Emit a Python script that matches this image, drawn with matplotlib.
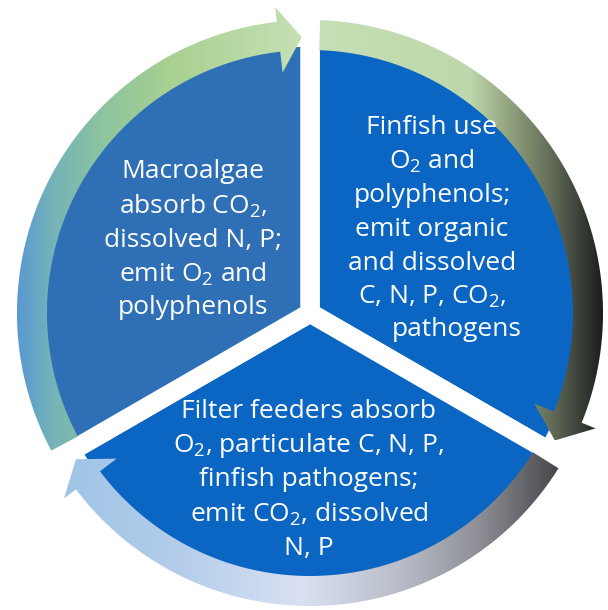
import numpy as np
import matplotlib
matplotlib.use('Agg')
import matplotlib.pyplot as plt
from matplotlib.colors import LinearSegmentedColormap
from matplotlib.patches import Polygon

plt.rcParams['font.family'] = ['Open Sans', 'DejaVu Sans']
plt.rcParams['mathtext.fontset'] = 'custom'
plt.rcParams['mathtext.rm'] = 'Open Sans'
plt.rcParams['mathtext.it'] = 'Open Sans'
plt.rcParams['mathtext.bf'] = 'Open Sans'

# three equal stages of the cycle, clockwise from the top
shares = [1, 1, 1]
stages = ['Finfish', 'Filter feeders', 'Macroalgae']
wedge_colors = ['#0a66c2', '#0a66c2', '#2e6fb6']

finfish_lines = ['Finfish use', r'O$_2$ and', 'polyphenols;', 'emit organic',
                 'and dissolved', r'C, N, P, CO$_2$,']
finfish_tail = 'pathogens'
filter_lines = ['Filter feeders absorb', r'O$_2$, particulate C, N, P,',
                'finfish pathogens;', r'emit CO$_2$, dissolved', 'N, P']
macro_lines = ['Macroalgae', r'absorb CO$_2$,', 'dissolved N, P;',
               r'emit O$_2$ and', 'polyphenols']

# arrow angles (tail, head base, tip) in degrees, going clockwise
arrow_angles = [(208, 96.5, 91.7), (88, -22, -27.5), (-32, -143, -148)]
# horizontal colour stops (pixel x, colour) for each arrow
arrow_stops = [
    [(15, '#5898d4'), (50, '#73b2b9'), (100, '#8cc3a0'), (170, '#a8d090'), (300, '#c5e0b4')],
    [(320, '#c5e0b4'), (470, '#bed7ac'), (515, '#8c9b78'), (555, '#5f6856'), (605, '#1a1a1a')],
    [(50, '#9dc3e6'), (180, '#b4cdeb'), (300, '#d9e1f2'), (400, '#b9bdc9'), (480, '#8e8f96'), (575, '#38383c')],
]

cx, cy = 310, 313   # pixel position of the centre
r_in, r_out = 263, 293
h_in, h_out, r_tip = 242, 308, 276


def arrow_shape(tail, base, tip):
    t = np.radians(np.linspace(tail, base, 120))
    outer = np.c_[r_out * np.cos(t), r_out * np.sin(t)]
    inner = np.c_[r_in * np.cos(t), r_in * np.sin(t)][::-1]
    b, p = np.radians(base), np.radians(tip)
    head = [[h_out * np.cos(b), h_out * np.sin(b)],
            [r_tip * np.cos(p), r_tip * np.sin(p)],
            [h_in * np.cos(b), h_in * np.sin(b)]]
    return np.vstack([outer, head, inner])


fig = plt.figure(figsize=(6.08, 6.10), dpi=100)
ax = fig.add_axes([0, 0, 1, 1])

ax.pie(shares, startangle=90, counterclock=False, radius=276, center=(0, 0),
       colors=wedge_colors, wedgeprops=dict(edgecolor='white', linewidth=14))

for (tail, base, tip), stops in zip(arrow_angles, arrow_stops):
    pts = arrow_shape(tail, base, tip)
    poly = Polygon(pts, closed=True, facecolor='none', edgecolor='none')
    ax.add_patch(poly)
    x0, x1 = pts[:, 0].min(), pts[:, 0].max()
    y0, y1 = pts[:, 1].min(), pts[:, 1].max()
    xs = np.array([s[0] - cx for s in stops])
    pos = (xs - xs[0]) / (xs[-1] - xs[0])
    cmap = LinearSegmentedColormap.from_list('g', list(zip(pos, [s[1] for s in stops])))
    gx = np.linspace(x0, x1, 400)
    vals = np.clip((gx - xs[0]) / (xs[-1] - xs[0]), 0, 1)
    im = ax.imshow(vals[None, :], extent=(x0, x1, y0, y1), cmap=cmap, vmin=0, vmax=1,
                   aspect='auto', interpolation='bilinear', zorder=3)
    im.set_clip_path(poly)

txt = dict(color='white', fontsize=19, ha='center', va='center', zorder=5)


def put_block(lines, x, y_center, step):
    n = len(lines)
    for i, line in enumerate(lines):
        y = y_center + (i - (n - 1) / 2) * step
        ax.text(x - cx, cy - y, line, **txt)


put_block(macro_lines, 193, 240, 34)
put_block(finfish_lines, 432, 212, 34)
ax.text(457 - cx, cy - 330, finfish_tail, **txt)
put_block(filter_lines, 309, 480, 34)

ax.set_xlim(-cx, 608 - cx)
ax.set_ylim(cy - 610, cy)
ax.set_aspect('equal')
ax.axis('off')

fig.savefig('out.png', dpi=100)
